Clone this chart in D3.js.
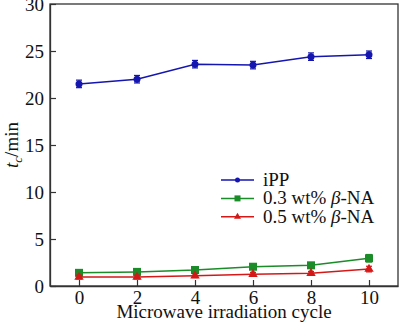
<!DOCTYPE html>
<html>
<head>
<meta charset="utf-8">
<script src="https://cdn.jsdelivr.net/npm/d3@7"></script>
<style>
  body { margin: 0; background: #fff; }
</style>
</head>
<body>
<svg id="chart" width="400" height="330"></svg>
<script>
// microwave irradiation cycles and crystallization half-times (min)
const cycles = [0, 2, 4, 6, 8, 10]
const ipp = [21.5, 22.0, 23.6, 23.5, 24.4, 24.6]
const ippErr = [0.4, 0.4, 0.4, 0.4, 0.4, 0.4]
const na03 = [1.4, 1.5, 1.7, 2.05, 2.2, 2.95]
const na03Err = [0.2, 0.2, 0.2, 0.25, 0.25, 0.4]
const na05 = [0.95, 0.95, 1.1, 1.25, 1.35, 1.8]
const na05Err = [0.2, 0.2, 0.2, 0.2, 0.2, 0.3]
const xTicks = [0, 2, 4, 6, 8, 10]
const yTicks = [0, 5, 10, 15, 20, 25, 30]

const series = [
  { name: 'iPP', values: ipp, err: ippErr, color: '#1515b0', shape: 'circle' },
  { name: '0.3 wt% β-NA', values: na03, err: na03Err, color: '#1a8c28', shape: 'square' },
  { name: '0.5 wt% β-NA', values: na05, err: na05Err, color: '#d41818', shape: 'triangle' }
]

const FONT = 'Liberation Serif'
const margin = { left: 50, right: 2, top: 4, bottom: 44 }
const width = 400, height = 330
const svg = d3.select('svg#chart')

const x = d3.scaleLinear().domain([-1, 11]).range([margin.left, width - margin.right])
const y = d3.scaleLinear().domain([0, 30]).range([height - margin.bottom, margin.top])

const axisColor = '#333'

// frame
svg.append('rect')
  .attr('x', x(-1)).attr('y', y(30))
  .attr('width', x(11) - x(-1)).attr('height', y(0) - y(30))
  .attr('fill', 'none').attr('stroke', axisColor).attr('stroke-width', 1.3)

const xAxis = svg.append('g')
  .attr('transform', `translate(0,${y(0)})`)
  .call(d3.axisBottom(x).tickValues(xTicks).tickSizeInner(-6).tickSizeOuter(0).tickPadding(5))
const yAxis = svg.append('g')
  .attr('transform', `translate(${x(-1)},0)`)
  .call(d3.axisLeft(y).tickValues(yTicks).tickSizeInner(-6).tickSizeOuter(0).tickPadding(6))

for (const g of [xAxis, yAxis]) {
  g.select('.domain').attr('stroke', axisColor).attr('stroke-width', 1.3)
  g.selectAll('.tick line').attr('stroke', axisColor).attr('stroke-width', 1.2)
  g.selectAll('.tick text').attr('fill', '#111')
    .style('font-family', FONT).style('font-size', '19px')
}

// axis titles
svg.append('text')
  .attr('x', (x(-1) + x(11)) / 2).attr('y', 318)
  .attr('text-anchor', 'middle').attr('fill', '#111')
  .style('font-family', FONT).style('font-size', '19px')
  .text('Microwave irradiation cycle')

const yTitle = svg.append('text')
  .attr('transform', `translate(18,${(y(0) + y(30)) / 2}) rotate(-90)`)
  .attr('text-anchor', 'middle').attr('fill', '#111')
  .style('font-family', FONT).style('font-size', '19px')
yTitle.append('tspan').style('font-style', 'italic').text('t')
yTitle.append('tspan').style('font-style', 'italic').style('font-size', '13px').attr('dy', 4).text('c')
yTitle.append('tspan').attr('dy', -4).text('/min')

const line = d3.line().x((d, i) => x(cycles[i])).y(d => y(d))

function marker (g, shape, color, size) {
  if (shape === 'circle') {
    g.append('circle').attr('r', size * 0.5).attr('fill', color)
  } else if (shape === 'square') {
    g.append('rect').attr('x', -size / 2).attr('y', -size / 2)
      .attr('width', size).attr('height', size).attr('fill', color)
  } else {
    g.append('path').attr('d', d3.symbol(d3.symbolTriangle, size * size * 0.6)).attr('fill', color)
  }
}

series.forEach(s => {
  const g = svg.append('g')
  g.append('path').datum(s.values)
    .attr('d', line).attr('fill', 'none').attr('stroke', s.color).attr('stroke-width', 1.5)

  const pts = g.selectAll('g.pt').data(s.values).enter().append('g')
    .attr('class', 'pt')
    .attr('transform', (d, i) => `translate(${x(cycles[i])},${y(d)})`)
  pts.each(function (d, i) {
    const p = d3.select(this)
    const dy = y(d - s.err[i]) - y(d)
    p.append('line').attr('y1', -dy).attr('y2', dy).attr('stroke', s.color).attr('stroke-width', 1.2)
    p.append('line').attr('x1', -3).attr('x2', 3).attr('y1', -dy).attr('y2', -dy).attr('stroke', s.color).attr('stroke-width', 1.2)
    p.append('line').attr('x1', -3).attr('x2', 3).attr('y1', dy).attr('y2', dy).attr('stroke', s.color).attr('stroke-width', 1.2)
    marker(p, s.shape, s.color, s.shape === 'circle' ? 7 : 8)
  })
})

// legend
const legend = svg.append('g').attr('transform', 'translate(221,180)')
series.forEach((s, i) => {
  const row = legend.append('g').attr('transform', `translate(0,${i * 18.4})`)
  row.append('line').attr('x1', 0).attr('x2', 33).attr('stroke', s.color).attr('stroke-width', 1.5)
  const m = row.append('g').attr('transform', 'translate(16.5,0)')
  marker(m, s.shape, s.color, s.shape === 'circle' ? 5 : 6)
  const t = row.append('text').attr('x', 42).attr('y', 6).attr('fill', '#111')
    .style('font-family', FONT).style('font-size', '19px')
  if (i === 0) {
    t.text(s.name)
  } else {
    const parts = s.name.split('β')
    t.append('tspan').text(parts[0])
    t.append('tspan').style('font-style', 'italic').text('β')
    t.append('tspan').text(parts[1])
  }
})
</script>
</body>
</html>
